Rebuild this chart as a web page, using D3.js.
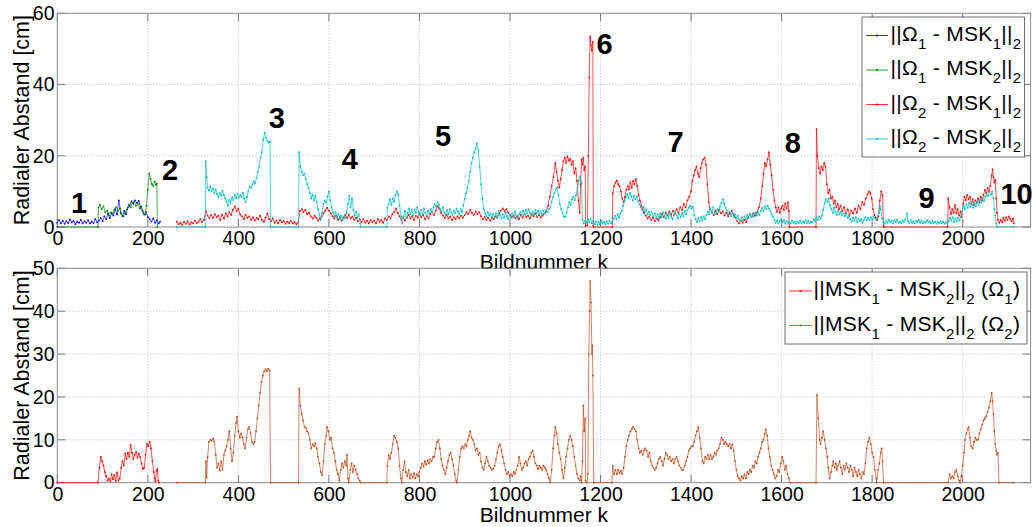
<!DOCTYPE html>
<html><head><meta charset="utf-8">
<script src="https://cdn.jsdelivr.net/npm/d3@7"></script>
<style>
html,body{margin:0;padding:0;background:#fff;}
svg{display:block;font-family:"Liberation Sans",Arial,Helvetica,sans-serif;}
</style></head><body>
<svg id="chart" width="1032" height="527"></svg>
<script>
// Radial distance per frame [frame k, distance cm]
const omega1Msk1 = [[0,1.2],[4,2.0],[8,1.0],[12,1.8],[16,0.9],[20,1.6],[24,1.1],[28,2.1],[32,1.3],[36,1.7],[40,0.8],[44,1.5],[48,1.2],[52,2.0],[56,1.0],[60,1.6],[64,1.2],[68,1.9],[72,1.0],[76,1.5],[80,1.1],[84,2.2],[88,1.3],[92,1.8],[96,2.5],[100,1.6],[104,3.0],[108,2.2],[112,3.8],[116,2.5],[120,4.0],[124,3.2],[128,5.0],[132,3.5],[136,7.5],[140,4.0],[144,3.0],[148,4.5],[152,3.6],[156,5.5],[160,6.0],[164,7.2],[168,6.5],[172,7.5],[176,6.8],[180,7.3],[184,5.5],[188,4.6],[192,3.5],[196,4.2],[200,2.8],[204,2.2],[208,1.5],[212,2.4],[216,1.2],[220,1.9],[224,1.0],[227,1.5]];

const omega1Msk2 = [[0,0],[90,0],[91,5.5],[94,6.3],[98,5.0],[102,5.8],[106,4.2],[110,4.6],[114,3.2],[118,4.0],[122,3.5],[126,4.8],[130,5.6],[134,4.5],[138,5.2],[142,3.6],[146,3.0],[150,4.0],[154,5.0],[158,6.3],[162,5.5],[166,6.8],[170,7.2],[174,6.0],[178,6.6],[182,5.2],[186,5.8],[190,4.0],[194,3.5],[197,6.0],[200,10.5],[203,15.0],[206,13.5],[209,12.0],[212,11.5],[215,12.8],[218,11.8],[220,12.2],[221,0]];

const omega2Msk1 = [[264,1.5],[268,0.8],[272,1.2],[276,0.6],[280,1.4],[284,0.9],[288,1.6],[292,0.7],[296,1.3],[300,1.0],[304,1.8],[308,1.1],[312,1.5],[316,2.2],[320,1.4],[324,2.0],
[328,4.5],[332,3.2],[336,2.5],[340,3.4],[344,2.6],[348,3.6],[352,2.8],[356,3.2],[360,2.0],[364,3.5],[368,2.4],[372,3.8],[376,3.0],[380,4.2],[384,3.4],[388,4.8],[392,5.8],[396,4.5],[400,5.2],[404,3.5],
[408,3.0],[412,2.2],[416,3.4],[420,2.6],[424,3.0],[428,2.0],[432,2.8],[436,1.8],[440,2.6],[444,2.2],[448,3.2],[452,2.0],[456,1.5],[460,2.6],[464,3.8],[468,2.2],
[472,1.6],[476,2.4],[480,1.2],[484,1.8],[488,1.0],[492,2.0],[496,1.3],[500,1.7],[504,0.9],[508,1.5],[512,1.1],[516,1.8],[520,1.0],[524,1.4],[528,0.8],[532,1.2],
[536,4.5],[540,5.0],[544,4.2],[548,4.8],[552,3.6],[556,4.0],[560,3.0],[564,2.4],[568,3.2],[572,2.6],[576,1.8],[580,2.4],[584,3.0],[588,3.8],[592,4.6],[596,5.4],[600,4.6],
[604,3.8],[608,3.0],[612,2.4],[616,3.2],[620,2.0],[624,2.8],[628,1.8],[632,2.6],[636,3.4],[640,2.6],[644,3.5],[648,2.4],[652,3.0],[656,2.0],[660,2.6],[664,1.6],[668,2.2],
[672,1.4],[676,2.2],[680,1.2],[684,1.8],[688,1.0],[692,2.0],[696,1.3],[700,1.8],[704,1.0],[708,2.2],[712,1.5],[716,2.0],[720,1.2],[724,2.4],
[728,2.0],[732,3.0],[736,2.4],[740,3.6],[744,4.2],[748,5.2],[752,4.0],[756,3.0],[760,2.0],[764,2.8],[768,1.8],[772,2.6],
[776,3.4],[780,2.4],[784,3.0],[788,2.0],[792,3.2],[796,2.6],[800,3.8],[804,2.8],[808,3.4],[812,2.2],[816,3.0],[820,2.4],[824,3.6],[828,4.2],[832,3.4],[836,4.6],[840,5.8],[844,5.2],
[848,4.0],[852,3.2],[856,2.6],[860,3.4],[864,2.4],[868,3.0],[872,2.0],[876,2.8],[880,2.2],[884,3.0],[888,2.4],[892,3.2],[896,2.6],[900,3.4],
[904,4.2],[908,3.6],[912,4.8],[916,4.0],[920,3.4],[924,4.4],[928,3.6],[932,4.2],
[936,3.0],[940,2.2],[944,2.8],[948,2.0],[952,2.6],[956,1.8],[960,2.6],[964,2.2],[968,3.0],[972,2.6],[976,3.8],
[980,4.6],[984,5.2],[988,4.4],[992,5.0],[996,4.0],[1000,3.4],
[1004,2.8],[1008,3.2],[1012,2.4],[1016,3.0],[1020,2.2],[1024,3.4],[1028,2.6],[1032,3.6],[1036,2.8],[1040,3.2],[1044,2.4],[1048,3.6],[1052,3.0],[1056,3.8],[1060,2.8],[1064,3.4],[1068,2.6],[1072,3.2],[1076,3.8],[1080,4.4],
[1084,6.0],[1088,8.5],[1092,11.5],[1096,14.0],[1100,18.0],[1103,15.5],[1106,13.0],[1109,11.0],[1112,13.5],[1115,16.0],[1118,18.5],[1121,19.5],[1124,18.0],[1127,19.8],[1130,18.6],[1133,19.2],[1136,17.5],[1139,18.5],[1142,15.0],[1145,16.5],[1148,13.0],[1151,7.5],[1154,4.0],
[1156,12.0],[1158,19.0],[1160,17.5],[1162,19.5],[1164,16.0],[1166,17.0],[1167,0.3],[1171,0.5],[1173,20.0],[1175,42.0],[1177,53.5],[1179,51.0],[1181,49.5],[1183,52.0],[1184,0.3],
[1185,0],[1226,0],[1227,9.5],[1230,11.5],[1233,12.5],[1236,13.0],[1239,12.0],[1242,11.5],[1245,10.0],[1248,8.0],[1251,7.0],[1254,8.5],[1257,10.5],[1260,11.5],[1263,10.5],[1266,12.5],[1269,11.0],[1272,13.0],[1275,12.0],[1278,13.5],[1281,11.5],[1284,9.0],[1287,7.5],[1290,6.0],[1293,5.2],[1296,4.0],[1300,3.2],
[1304,2.4],[1308,3.0],[1312,2.0],[1316,2.6],[1320,1.6],[1324,2.4],[1328,1.8],[1332,2.8],
[1336,3.6],[1340,2.8],[1344,4.0],[1348,3.2],[1352,4.4],[1356,3.4],[1360,4.6],[1364,3.6],[1368,5.0],[1372,4.0],[1376,5.6],
[1380,4.8],[1384,6.5],[1388,5.5],[1392,7.5],[1396,8.5],
[1400,10.0],[1403,13.0],[1406,14.5],[1409,16.0],[1412,17.0],[1415,15.0],[1418,14.0],[1421,16.5],[1424,18.0],[1427,19.0],[1430,19.5],[1433,17.5],[1436,12.0],[1439,7.0],[1442,5.0],
[1446,4.2],[1450,3.4],[1454,4.6],[1458,3.6],[1462,4.8],[1466,3.8],[1470,4.4],[1474,3.2],[1478,4.0],[1482,3.0],[1486,3.8],[1490,4.6],[1494,3.4],[1498,2.6],
[1502,1.6],[1506,1.0],[1510,1.8],[1514,1.2],[1518,2.0],[1522,1.4],
[1526,2.8],[1530,3.6],[1534,2.8],[1538,3.8],[1542,3.2],[1546,4.2],[1550,5.5],
[1554,8.0],[1557,11.5],[1560,15.0],[1563,18.0],[1566,17.0],[1569,19.0],[1572,21.0],[1575,17.5],[1578,14.5],[1581,10.5],[1584,7.5],
[1587,5.5],[1590,4.2],[1593,5.6],[1596,4.0],[1599,5.2],[1602,6.0],[1605,4.8],[1608,6.6],[1611,5.2],[1614,7.0],[1616,4.5],[1617,0],
[1676,0],[1677,27.5],[1679,20.0],[1682,16.5],[1685,15.0],[1688,17.0],[1691,16.0],[1694,18.0],[1697,17.0],[1700,12.0],[1703,9.5],[1706,10.5],[1709,8.0],[1712,8.5],[1715,6.5],[1718,7.5],[1721,5.5],[1724,6.5],[1727,5.0],[1730,6.0],
[1734,4.4],[1738,5.6],[1742,3.8],[1746,5.0],[1750,3.4],[1754,4.6],[1758,3.8],[1762,5.2],[1766,4.0],[1770,6.0],[1774,5.0],[1778,7.0],[1782,6.2],[1786,8.0],[1790,9.2],[1793,10.0],[1796,9.5],[1799,8.0],[1802,5.0],[1805,3.4],[1808,2.6],[1811,2.0],[1814,3.0],[1817,7.5],[1820,10.0],[1823,9.0],[1825,0.3],
[1826,0],[1967,0],[1968,8.0],[1971,5.5],[1974,3.6],[1977,5.0],[1980,4.0],[1983,6.2],[1986,3.8],[1989,5.0],[1992,3.2],[1995,4.4],[1998,2.8],[2001,6.5],[2004,8.5],[2007,7.5],[2010,9.0],[2013,7.8],[2016,8.5],[2019,6.5],[2022,7.8],[2025,6.2],[2028,7.5],[2031,6.8],[2034,8.0],[2037,7.0],[2040,8.5],[2043,7.5],[2046,9.0],[2049,10.5],[2052,9.5],[2055,11.0],[2058,10.0],[2061,11.5],[2064,14.5],[2066,16.2],[2068,14.0],[2070,12.5],[2072,13.2],[2074,8.0],[2076,4.0],[2078,2.0],[2081,1.2],[2084,2.0],[2087,1.4],[2090,2.6],[2093,1.8],[2096,2.8],[2099,2.0],[2102,3.0],[2105,2.2],[2108,1.6],[2111,2.4],[2113,1.0]];

const omega2Msk2 = [[264,0],[327,0],[328,18.5],[330,14.0],[332,11.0],[335,10.2],[338,11.5],[341,10.0],[344,10.8],[347,9.6],[350,10.5],[353,9.2],[356,8.4],[359,9.6],[362,8.8],[365,10.2],[368,9.0],[371,8.0],[374,7.2],[377,6.0],[380,7.6],[383,6.8],[386,8.4],[389,7.6],[392,9.0],[395,8.0],[398,9.4],[401,8.2],[404,9.0],[407,8.4],[410,9.6],[413,8.0],[416,7.0],[419,8.5],[422,10.0],[425,11.5],[428,11.0],[431,12.0],[434,12.8],[437,12.2],[440,13.8],[443,15.5],[446,17.0],[449,19.5],[452,21.0],[455,24.5],[458,26.5],[461,25.0],[464,24.2],[467,23.8],[470,24.0],[471,0],
[533,0],[534,21.0],[537,17.0],[540,15.5],[543,14.5],[546,15.0],[549,13.5],[552,12.0],[555,11.0],[558,9.5],[561,8.0],[564,9.0],[567,7.5],[570,8.8],[573,7.0],[576,5.0],[579,3.5],[582,2.0],[585,4.0],[588,6.5],[591,7.5],[594,6.8],[597,8.5],[600,10.0],[603,7.5],
[606,5.5],[609,4.0],[612,3.0],[615,4.2],[618,2.6],[621,3.6],[624,2.2],[627,3.2],[630,2.0],[633,3.0],[636,2.4],[639,4.0],[642,6.5],[645,8.8],[648,5.5],[651,8.0],[654,4.8],[657,3.2],[660,4.4],[663,2.6],[666,3.6],[669,1.0],[670,0],
[728,0],[729,5.5],[732,6.5],[735,7.8],[738,6.2],[741,8.0],[744,7.0],[747,9.0],[750,10.0],[753,9.2],[756,6.0],[759,3.0],[762,1.0],[765,3.0],[768,4.5],[771,2.5],
[774,4.0],[777,5.2],[780,3.6],[783,4.8],[786,3.2],[789,5.0],[792,4.0],[795,5.6],[798,4.2],[801,3.4],[804,4.8],[807,3.6],[810,5.2],[813,4.0],[816,3.2],[819,4.6],[822,3.8],[825,5.0],[828,4.2],[831,5.6],
[834,6.4],[837,5.6],[840,7.0],[843,6.2],[846,5.0],
[849,4.4],[852,5.6],[855,4.0],[858,3.2],[861,4.8],[864,3.6],[867,5.0],[870,4.2],[873,3.4],[876,4.6],[879,3.8],[882,5.2],[885,4.4],[888,3.6],[891,5.0],[894,4.2],[897,6.0],
[900,8.0],[903,9.5],[906,11.0],[909,13.0],[912,15.5],[915,18.0],[918,19.5],[921,21.0],[924,22.0],[927,23.5],[930,21.5],[933,17.0],[936,12.0],[939,8.0],[942,5.0],
[945,3.8],[948,3.0],[951,4.2],[954,3.2],[957,3.8],[960,2.8],[963,3.6],
[966,2.6],[969,3.8],[972,2.8],[975,4.6],[978,3.4],[981,2.4],[984,3.6],[987,2.6],[990,4.0],[993,3.0],[996,2.2],[999,3.4],[1002,2.6],[1005,3.8],[1008,2.8],[1011,4.4],[1014,3.2],[1017,2.4],[1020,3.6],
[1023,4.2],[1026,3.4],[1029,4.6],[1032,3.6],[1035,4.8],[1038,3.8],[1041,5.0],[1044,4.0],[1047,3.2],[1050,4.4],[1053,3.4],[1056,4.8],[1059,3.8],[1062,4.6],[1065,3.6],[1068,4.4],[1071,3.4],[1074,4.6],[1077,3.8],[1080,4.8],[1083,4.2],[1086,5.0],[1089,5.6],
[1092,7.0],[1095,8.5],[1098,9.5],[1101,10.5],[1104,11.2],[1107,9.0],[1110,6.5],[1113,5.0],[1116,3.8],[1119,3.0],[1122,2.8],[1125,4.0],[1128,5.5],[1131,7.0],[1134,6.2],[1137,7.8],[1140,8.5],[1143,7.5],[1146,9.0],[1149,11.0],[1152,13.0],[1155,14.2],[1158,12.5],[1160,2.0],[1163,1.0],[1166,1.8],
[1169,1.2],[1172,2.2],[1175,1.4],[1178,2.4],[1181,1.0],[1184,1.8],
[1187,0.8],[1190,1.6],[1193,0.6],[1196,1.4],[1199,0.8],[1202,1.8],[1205,1.0],[1208,1.5],[1211,0.7],[1214,1.6],[1217,0.9],[1220,1.8],[1223,1.0],[1226,1.5],
[1229,2.4],[1232,3.2],[1235,2.2],[1238,3.6],[1241,2.6],[1244,3.8],[1247,4.6],[1250,6.0],
[1253,7.2],[1256,8.4],[1259,9.2],[1262,8.0],[1265,9.6],[1268,8.6],[1271,7.4],[1274,8.8],[1277,7.8],[1280,8.6],[1283,7.2],[1286,6.4],
[1289,5.6],[1292,4.8],[1295,5.8],[1298,4.2],[1301,5.0],[1304,3.6],[1307,4.4],[1310,3.4],[1313,4.2],[1316,3.0],
[1320,3.8],[1323,2.6],[1326,3.6],[1329,2.4],[1332,3.8],[1335,2.8],[1338,4.2],[1341,3.0],[1344,2.4],[1347,3.6],[1350,2.6],[1353,4.0],[1356,3.0],[1359,2.2],[1362,3.4],[1365,4.4],[1368,3.2],[1371,2.4],[1374,3.6],[1377,2.8],[1380,4.0],[1383,3.0],[1386,4.6],[1389,3.6],[1392,4.8],[1395,5.4],
[1398,6.0],[1401,5.2],[1404,5.8],
[1407,3.4],[1410,2.2],[1413,1.4],[1416,2.6],[1419,1.6],[1422,2.8],[1425,1.8],[1428,3.0],[1431,2.2],[1434,3.4],
[1437,4.4],[1440,3.6],[1443,5.2],[1446,4.0],[1449,5.6],[1452,4.4],[1455,3.6],[1458,5.0],[1461,4.2],[1464,5.8],[1467,6.8],[1470,7.8],[1473,6.6],[1476,5.4],[1479,4.6],
[1482,3.6],[1485,4.4],[1488,3.0],[1491,4.0],[1494,2.8],[1497,3.6],[1500,2.4],[1503,3.2],[1506,2.2],[1509,1.6],[1512,2.6],[1515,1.8],[1518,3.0],[1521,2.2],[1524,3.4],[1527,2.6],[1530,3.6],[1533,2.8],[1536,3.8],[1539,3.0],[1542,4.0],[1545,3.2],[1548,4.2],[1551,3.4],
[1554,4.6],[1557,5.4],[1560,4.4],[1563,5.8],[1566,5.0],[1569,6.0],[1572,5.2],[1575,4.4],[1578,3.6],[1581,2.8],
[1584,2.0],[1587,1.2],[1590,1.8],[1593,1.0],[1596,1.6],[1599,2.2],[1602,1.4],[1605,1.9],[1608,1.1],[1611,1.7],[1614,0.9],[1617,1.5],[1620,1.0],[1623,1.8],[1626,1.2],[1629,1.6],[1632,0.9],[1635,1.5],[1638,1.1],[1641,1.8],[1644,1.0],[1647,1.6],[1650,1.2],[1653,1.9],[1656,1.1],[1659,1.7],[1662,1.0],[1665,1.5],[1668,1.3],
[1671,2.2],[1674,1.6],[1677,2.8],[1680,2.0],[1683,3.0],[1686,2.4],[1689,3.2],[1692,4.8],
[1695,6.8],[1698,7.8],[1701,7.0],[1704,8.0],[1707,6.2],
[1710,5.0],[1713,4.0],[1716,5.4],[1719,4.2],[1722,3.4],[1725,4.6],[1728,3.6],[1731,4.2],[1734,3.2],[1737,3.8],[1740,3.0],[1743,3.6],[1746,2.6],[1749,3.2],
[1752,2.2],[1755,1.6],[1758,2.6],[1761,1.8],[1764,2.8],[1767,1.4],[1770,2.4],[1773,1.6],[1776,2.2],[1779,1.2],[1782,2.0],[1785,2.8],[1788,1.8],[1791,2.6],[1794,2.0],
[1797,2.8],[1800,2.2],[1803,3.0],[1806,2.4],[1809,2.0],[1812,2.8],[1815,4.0],[1817,6.0],[1819,5.0],[1822,2.4],
[1825,1.5],[1828,1.0],[1831,1.8],[1834,1.2],[1837,2.0],[1840,1.3],[1843,1.7],[1846,1.0],[1849,1.9],[1852,1.4],[1855,2.1],[1858,1.2],[1861,1.6],[1864,1.0],[1867,1.8],[1870,1.3],[1873,2.0],[1877,3.8],[1879,1.7],[1882,1.1],[1885,1.9],[1888,1.2],[1891,1.6],[1894,1.0],[1897,1.8],[1900,1.4],[1903,2.0],[1906,1.2],[1909,1.7],[1912,1.0],[1915,1.6],[1918,1.2],[1921,1.9],[1924,1.3],[1927,1.6],[1930,1.0],[1933,1.7],[1936,1.2],[1939,1.5],[1942,0.9],[1945,1.4],[1948,1.0],[1951,1.6],[1954,1.1],[1957,1.4],[1960,0.9],[1963,1.3],[1966,1.0],
[1969,1.6],[1972,2.6],[1975,1.8],[1978,2.8],[1981,1.4],[1984,2.4],[1987,1.6],[1990,2.6],[1993,1.8],[1996,3.0],
[1999,4.6],[2002,5.8],[2005,5.0],[2008,6.4],[2011,5.4],[2014,6.8],
[2017,5.6],[2020,6.4],[2023,5.4],[2026,6.8],[2029,5.8],[2032,7.2],[2035,6.2],[2038,7.6],[2041,6.8],[2044,8.0],[2047,7.2],[2050,8.6],
[2053,9.2],[2056,8.6],[2059,9.8],[2062,9.0],[2065,10.0],[2068,8.0],[2070,5.0],[2072,3.2],[2074,1.0],[2076,0],[2113,0]];

// Distance between both MSK estimates
const mskDiffOmega1 = [[0,0],[90,0],[93,3.5],[96,6.0],[99,5.0],[102,4.0],[105,2.5],[108,1.5],[111,0.5],[114,1.0],[117,0.3],[120,2.0],[123,0.8],[126,1.8],[129,0.4],[132,2.4],[135,0.5],[138,1.0],[141,3.5],[144,5.0],[147,4.0],[150,6.8],[153,5.5],[156,7.0],[159,6.0],[162,8.8],[165,7.0],[168,5.5],[171,6.5],[174,7.2],[177,5.8],[180,6.8],[183,6.0],[186,4.5],[189,3.2],[192,3.5],[195,6.5],[198,9.0],[201,8.5],[204,9.6],[207,8.0],[210,5.0],[213,2.5],[215,1.0],[217,0.3],[219,2.8],[221,3.2],[223,0.5],[225,0]];

const mskDiffOmega2 = [[264,0],[327,0],[328,5.0],[330,1.2],[332,6.0],[335,9.5],[338,10.0],[341,9.8],[344,10.3],[347,9.6],[350,6.5],[353,3.5],[356,4.5],[359,2.8],[362,5.0],[365,3.0],[368,6.5],[371,7.5],[374,8.5],[377,10.0],[380,12.0],[383,8.0],[386,5.0],[389,7.0],[392,11.0],[395,14.0],[397,15.4],[400,12.0],[403,10.5],[406,11.5],[409,10.5],[412,9.0],[415,8.0],[418,10.5],[421,12.5],[424,13.0],[427,11.5],[430,9.5],[433,9.0],[436,9.5],[439,12.0],[442,15.0],[445,18.0],[448,21.0],[451,23.5],[454,25.0],[457,26.0],[460,26.5],[463,26.0],[466,26.6],[469,26.2],[471,0],
[533,0],[534,22.0],[537,18.0],[540,16.0],[543,14.5],[546,13.0],[549,12.8],[552,12.0],[555,11.5],[558,10.0],[561,8.0],[564,9.0],[567,8.5],[570,9.2],[573,8.0],[576,6.0],[579,4.5],[582,2.5],[585,1.8],[588,5.0],[591,9.0],[594,11.0],[596,13.0],[599,12.0],[602,10.0],[605,10.5],[608,8.0],[611,7.0],[614,5.0],[617,3.0],[620,2.0],[623,0.5],[626,3.0],[629,4.5],[632,3.5],[635,5.0],[638,4.0],[640,6.5],[642,1.0],[644,0],[647,3.0],[650,4.5],[653,2.5],[656,4.0],[659,3.0],[662,2.0],[665,1.0],[668,0.5],[670,0],
[728,0],[729,4.0],[732,6.5],[735,5.5],[738,7.0],[741,9.0],[744,11.0],[747,10.5],[750,9.5],[753,8.0],[756,4.0],[759,1.0],[761,0],[764,3.0],[767,5.0],[770,2.5],[773,1.5],[776,3.0],[779,1.0],[782,2.0],[785,1.2],[788,2.2],[791,1.0],[794,2.0],[797,1.5],[800,2.5],[803,3.5],[806,4.5],[809,3.8],[812,5.0],[815,4.2],[818,5.2],[821,4.5],[824,5.5],[827,5.0],[830,6.0],[833,6.0],[836,8.0],[839,9.5],[842,10.0],[845,8.0],[848,5.5],[851,4.0],[854,3.0],[857,2.0],[860,3.5],[863,5.0],[866,6.5],[869,7.0],[872,5.5],[875,4.0],[878,2.0],[881,0.5],[883,0],[886,3.0],[889,6.0],[892,8.0],[895,8.5],[898,8.0],[901,9.0],[904,8.5],[907,10.0],[910,11.0],[912,12.0],[915,10.5],[918,10.0],[921,9.0],[924,7.5],[927,8.0],[930,6.5],[933,7.0],[936,5.0],[939,3.5],[942,3.0],[945,4.5],[948,6.0],[951,5.0],[954,4.0],[957,3.5],[960,3.0],[963,3.2],[966,4.0],[969,5.5],[972,7.0],[975,8.5],[978,9.0],[981,7.5],[984,6.0],[987,4.5],[990,3.0],[993,2.0],[996,2.5],[999,1.5],[1002,2.0],[1005,1.5],[1008,2.5],[1011,2.0],[1014,3.0],[1017,4.0],[1020,6.0],[1023,4.5],[1026,3.0],[1029,3.5],[1032,4.5],[1035,5.0],[1038,4.0],[1041,5.5],[1044,6.0],[1047,7.0],[1050,7.5],[1053,6.0],[1056,4.5],[1059,4.0],[1062,3.2],[1065,4.0],[1068,3.5],[1071,3.0],[1074,4.0],[1077,3.5],[1080,3.0],[1083,2.0],[1086,1.0],[1089,0],[1092,3.0],[1095,8.0],[1098,11.0],[1100,13.0],[1103,11.5],[1106,9.0],[1109,7.0],[1112,5.5],[1115,3.0],[1118,1.0],[1121,3.5],[1124,6.0],[1127,8.0],[1130,10.0],[1133,11.0],[1136,10.0],[1139,8.5],[1142,6.0],[1145,4.0],[1148,2.0],[1151,1.0],[1154,0.5],[1156,1.5],[1158,0],[1160,5.0],[1162,18.0],[1164,12.0],[1166,15.0],[1167,0.5],[1170,0],[1172,2.0],[1174,30.0],[1176,40.0],[1177,47.0],[1179,42.0],[1181,30.0],[1182,32.0],[1183,25.0],[1185,0],
[1225,0],[1227,4.0],[1230,2.0],[1233,3.0],[1236,2.0],[1239,3.0],[1242,2.2],[1245,2.8],[1248,2.0],[1251,3.5],[1254,6.0],[1257,8.5],[1260,10.0],[1263,11.0],[1266,12.0],[1269,12.5],[1272,13.0],[1275,12.5],[1278,12.0],[1281,10.0],[1284,8.0],[1287,7.0],[1290,7.5],[1293,6.5],[1296,7.5],[1299,8.0],[1302,7.5],[1305,6.0],[1308,7.0],[1311,5.0],[1314,4.0],[1317,3.5],[1320,3.0],[1323,3.5],[1326,4.5],[1329,5.5],[1332,6.0],[1335,5.0],[1338,4.0],[1341,5.5],[1344,7.0],[1347,6.5],[1350,5.5],[1353,6.0],[1356,5.0],[1359,5.5],[1362,4.5],[1365,5.5],[1368,6.0],[1371,5.0],[1374,4.0],[1377,3.5],[1380,3.0],[1383,3.0],[1386,4.0],[1389,5.0],[1392,6.0],[1395,7.5],[1398,8.0],[1401,8.5],[1404,8.5],[1407,9.5],[1410,11.0],[1413,12.0],[1416,13.0],[1419,10.5],[1422,8.0],[1425,5.0],[1428,4.5],[1431,6.0],[1434,5.5],[1437,6.5],[1440,5.5],[1443,6.5],[1446,5.5],[1449,6.0],[1452,7.0],[1455,6.5],[1458,7.5],[1461,8.0],[1464,9.0],[1467,10.5],[1470,10.0],[1473,9.0],[1476,9.5],[1479,9.0],[1482,8.5],[1485,9.0],[1488,8.0],[1491,9.0],[1494,7.5],[1497,5.0],[1500,3.0],[1503,1.5],[1506,1.0],[1509,0.5],[1512,1.5],[1515,1.0],[1518,2.0],[1521,1.0],[1524,2.5],[1527,2.0],[1530,3.0],[1533,2.5],[1536,4.0],[1539,3.5],[1542,5.0],[1545,4.5],[1548,6.0],[1551,7.0],[1554,8.0],[1557,9.5],[1560,10.0],[1563,11.5],[1565,12.5],[1568,11.0],[1571,8.0],[1574,6.0],[1577,4.0],[1580,3.0],[1583,2.0],[1586,1.0],[1589,1.5],[1592,3.0],[1595,2.5],[1598,4.5],[1601,6.0],[1604,5.0],[1607,3.0],[1610,4.0],[1613,2.0],[1616,1.0],[1619,0],
[1676,0],[1678,20.5],[1681,15.0],[1684,10.0],[1686,9.0],[1689,10.5],[1692,12.0],[1695,10.0],[1698,8.0],[1701,6.0],[1703,3.5],[1706,1.0],[1709,2.5],[1712,4.0],[1714,5.0],[1717,3.5],[1720,4.5],[1722,3.0],[1725,4.0],[1728,5.0],[1731,3.5],[1734,2.0],[1737,4.0],[1740,3.0],[1743,4.5],[1746,3.5],[1749,2.5],[1752,4.0],[1755,3.0],[1758,1.5],[1761,3.5],[1764,2.5],[1767,1.5],[1770,3.0],[1773,2.0],[1776,1.0],[1779,2.5],[1782,2.0],[1785,4.5],[1788,8.0],[1791,9.5],[1794,10.5],[1797,9.0],[1800,7.0],[1803,6.0],[1806,3.0],[1809,1.0],[1810,0],[1813,3.0],[1816,4.5],[1819,7.0],[1821,8.0],[1823,5.0],[1825,0],
[1968,0],[1971,2.0],[1974,1.0],[1977,1.5],[1980,1.0],[1983,2.5],[1986,3.0],[1989,1.5],[1992,0.5],[1994,0],[1997,1.5],[2000,4.0],[2003,7.0],[2005,10.0],[2008,11.5],[2011,12.5],[2013,13.0],[2016,10.5],[2019,8.5],[2022,8.0],[2025,9.5],[2028,10.5],[2031,10.0],[2034,10.0],[2037,11.5],[2040,12.5],[2043,13.5],[2046,14.5],[2049,15.0],[2052,15.5],[2055,16.5],[2058,17.5],[2061,19.0],[2064,21.0],[2066,19.0],[2068,16.0],[2070,12.0],[2072,9.0],[2074,7.5],[2076,6.5],[2078,7.0],[2080,0],[2113,0]];

// Axis ticks
const xTicks = [0,200,400,600,800,1000,1200,1400,1600,1800,2000];
const yTicksTop = [0,20,40,60];
const yTicksBottom = [0,10,20,30,40,50];

// Scene numbers written into the upper plot [label, frame, distance]
const sceneLabels = [["1",48,7.0],["2",249,16.0],["3",485,30.6],["4",646,19.1],["5",852,25.8],["6",1209,51.6],["7",1366,24.1],["8",1625,23.8],["9",1920,8.4],["10",2119,9.5]];

// Legend texts: pieces of [text, subscript?]
const legendTop = [
  [["||\u03A9",0],["1",1],[" - MSK",0],["1",1],["||",0],["2",1]],
  [["||\u03A9",0],["1",1],[" - MSK",0],["2",1],["||",0],["2",1]],
  [["||\u03A9",0],["2",1],[" - MSK",0],["1",1],["||",0],["2",1]],
  [["||\u03A9",0],["2",1],[" - MSK",0],["2",1],["||",0],["2",1]]
];
const legendBottom = [
  [["||MSK",0],["1",1],[" - MSK",0],["2",1],["||",0],["2",1],[" (\u03A9",0],["1",1],[")",0]],
  [["||MSK",0],["1",1],[" - MSK",0],["2",1],["||",0],["2",1],[" (\u03A9",0],["2",1],[")",0]]
];

const svg = d3.select("#chart");
const left = 57.3, right = 1030.6;
const FONT = 19.5;

function drawPanel(cfg) {
  const x = d3.scaleLinear().domain([0, 2150]).range([left, right]);
  const y = d3.scaleLinear().domain([0, cfg.yMax]).range([cfg.bottom, cfg.top]);
  const g = svg.append("g");

  // dotted grid
  g.append("g").selectAll("line").data(xTicks.filter(d => d > 0)).join("line")
    .attr("x1", d => x(d)).attr("x2", d => x(d)).attr("y1", cfg.top).attr("y2", cfg.bottom)
    .attr("stroke", "#bdbdbd").attr("stroke-width", 1).attr("stroke-dasharray", "1,2");
  g.append("g").selectAll("line").data(cfg.yTicks.filter(d => d > 0 && d < cfg.yMax)).join("line")
    .attr("x1", left).attr("x2", right).attr("y1", d => y(d)).attr("y2", d => y(d))
    .attr("stroke", "#bdbdbd").attr("stroke-width", 1).attr("stroke-dasharray", "1,2");

  // inner ticks on all four sides
  const tk = 8;
  const tg = g.append("g").attr("stroke", "#777").attr("stroke-width", 1);
  xTicks.forEach(d => {
    tg.append("line").attr("x1", x(d)).attr("x2", x(d)).attr("y1", cfg.bottom).attr("y2", cfg.bottom - tk);
    tg.append("line").attr("x1", x(d)).attr("x2", x(d)).attr("y1", cfg.top).attr("y2", cfg.top + tk);
  });
  cfg.yTicks.forEach(d => {
    tg.append("line").attr("x1", left).attr("x2", left + tk).attr("y1", y(d)).attr("y2", y(d));
    tg.append("line").attr("x1", right).attr("x2", right - tk).attr("y1", y(d)).attr("y2", y(d));
  });

  // box
  g.append("rect").attr("x", left).attr("y", cfg.top).attr("width", right - left).attr("height", cfg.bottom - cfg.top)
    .attr("fill", "none").attr("stroke", "#8a8a8a").attr("stroke-width", 1);

  // tick labels via d3 axes
  const ax = g.append("g").attr("transform", `translate(0,${cfg.bottom})`)
    .call(d3.axisBottom(x).tickValues(xTicks).tickSize(0).tickPadding(4.5).tickFormat(d3.format("d")));
  const ay = g.append("g").attr("transform", `translate(${left},0)`)
    .call(d3.axisLeft(y).tickValues(cfg.yTicks).tickSize(0).tickPadding(2.8).tickFormat(d3.format("d")));
  [ax, ay].forEach(a => {
    a.select(".domain").remove();
    a.selectAll("text").attr("font-size", FONT).attr("fill", "#000")
      .attr("font-family", '"Liberation Sans",Arial,Helvetica,sans-serif');
  });

  // axis titles
  g.append("text").attr("x", (left + right) / 2).attr("y", cfg.bottom + cfg.titleGap)
    .attr("text-anchor", "middle").attr("font-size", 21).text("Bildnummer k");
  g.append("text").attr("transform", `translate(28.5,${(cfg.top + cfg.bottom) / 2}) rotate(-90)`)
    .attr("text-anchor", "middle").attr("font-size", 21.5).text("Radialer Abstand [cm]");

  // data series: thin line with point markers
  const line = d3.line().x(d => x(d[0])).y(d => y(d[1]));
  cfg.series.forEach(s => {
    const sg = g.append("g");
    sg.append("path").datum(s.data).attr("d", line).attr("fill", "none")
      .attr("stroke", s.color).attr("stroke-width", 0.8).attr("stroke-opacity", 0.85);
    sg.selectAll("circle").data(s.data).join("circle")
      .attr("cx", d => x(d[0])).attr("cy", d => y(d[1])).attr("r", 0.9).attr("fill", s.color);
  });

  // scene numbers
  if (cfg.labels) {
    g.selectAll("text.scene").data(cfg.labels).join("text").attr("class", "scene")
      .attr("x", d => x(d[1])).attr("y", d => y(d[2])).attr("dy", "0.36em")
      .attr("text-anchor", "middle").attr("font-size", 29).attr("font-weight", "bold")
      .text(d => d[0]);
  }

  // legend
  const L = cfg.legend;
  const lg = g.append("g");
  lg.append("rect").attr("x", L.x0).attr("y", L.y0).attr("width", L.x1 - L.x0).attr("height", L.y1 - L.y0)
    .attr("fill", "#fff").attr("stroke", "#6e6e6e").attr("stroke-width", 1);
  L.entries.forEach((parts, i) => {
    const cy = L.firstY + i * L.step;
    const col = cfg.series[i].color;
    lg.append("line").attr("x1", L.lineX0).attr("x2", L.lineX1).attr("y1", cy).attr("y2", cy)
      .attr("stroke", col).attr("stroke-width", 0.8);
    lg.append("circle").attr("cx", (L.lineX0 + L.lineX1) / 2).attr("cy", cy).attr("r", 1.1).attr("fill", col);
    const t = lg.append("text").attr("x", L.textX).attr("y", cy + 5).attr("font-size", L.font)
      .attr("letter-spacing", 0.3);
    let shift = 0;
    parts.forEach(([txt, sub]) => {
      const want = sub ? 8 : 0;
      t.append("tspan").attr("dy", want - shift).attr("font-size", sub ? L.subFont : L.font).text(txt);
      shift = want;
    });
  });
}

drawPanel({
  top: 13.3, bottom: 227, yMax: 60, yTicks: yTicksTop, titleGap: 41.5,
  series: [
    {data: omega1Msk1, color: "#0000ff"},
    {data: omega1Msk2, color: "#008000"},
    {data: omega2Msk1, color: "#ff0000"},
    {data: omega2Msk2, color: "#00bfbf"}
  ],
  labels: sceneLabels,
  legend: {x0: 862, y0: 17, x1: 1024.5, y1: 157, firstY: 35.5, step: 34.5,
           lineX0: 866, lineX1: 888, textX: 890.5, font: 21, subFont: 15, entries: legendTop}
});

drawPanel({
  top: 268.3, bottom: 482.7, yMax: 50, yTicks: yTicksBottom, titleGap: 39.3,
  series: [
    {data: mskDiffOmega1, color: "#ff0000"},
    {data: mskDiffOmega2, color: "#bf4a1a"}
  ],
  legend: {x0: 785, y0: 272, x1: 1027, y1: 344, firstY: 291, step: 34.5,
           lineX0: 789, lineX1: 812, textX: 813.5, font: 21, subFont: 15, entries: legendBottom}
});
</script>
</body></html>
